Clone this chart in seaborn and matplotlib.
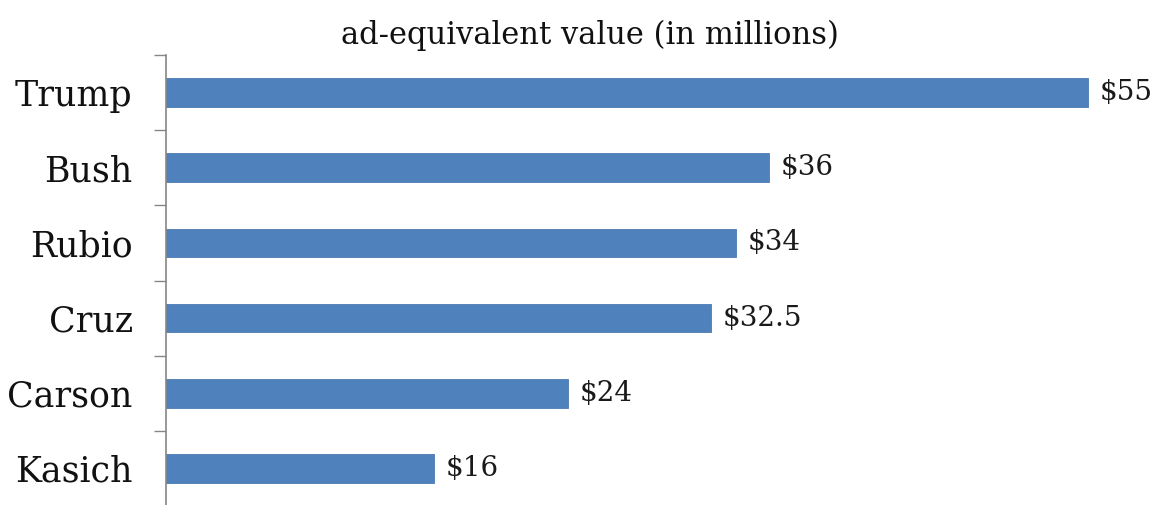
import numpy as np
import pandas as pd
import matplotlib.pyplot as plt
import seaborn as sns
from matplotlib.ticker import FixedLocator

candidates = ["Trump", "Bush", "Rubio", "Cruz", "Carson", "Kasich"]
values = [55, 36, 34, 32.5, 24, 16]
labels = ["$55", "$36", "$34", "$32.5", "$24", "$16"]

df = pd.DataFrame({"candidate": candidates, "value": values})

sns.set_style("white")
plt.rcParams['font.family'] = ['DejaVu Serif']

fig = plt.figure(figsize=(11.59, 5.05), dpi=100)
ax = fig.add_axes([166 / 1159, 1 - 506 / 505, 993 / 1159, 451 / 505])

sns.barplot(data=df, x="value", y="candidate", orient="h", color="#4F81BD",
            width=0.38, edgecolor="#4A7AB3", linewidth=0.6, saturation=1, ax=ax)

# value labels next to each bar
for i, (v, lab) in enumerate(zip(values, labels)):
    ax.text(v + 0.7, i, lab, va="center", ha="left", fontsize=20, color="#1a1a1a")

ax.set_xlim(0, 59.25)
ax.set_ylim(5.5, -0.5)
ax.set_xlabel("")
ax.set_ylabel("")
ax.set_xticks([])
ax.yaxis.set_minor_locator(FixedLocator(np.arange(-0.5, 6, 1)))
ax.tick_params(axis="y", which="major", length=0, pad=24, labelsize=25, labelcolor="#111111")
ax.tick_params(axis="y", which="minor", length=9, width=1, color="#868686", left=True)

for s in ["top", "right", "bottom"]:
    ax.spines[s].set_visible(False)
ax.spines["left"].set_color("#868686")
ax.spines["left"].set_linewidth(1.2)

fig.text(590 / 1159, 1 - 35 / 505, "ad-equivalent value (in millions)", ha="center",
         va="center", fontsize=22, color="#111111")

fig.savefig("out.png", dpi=100)
